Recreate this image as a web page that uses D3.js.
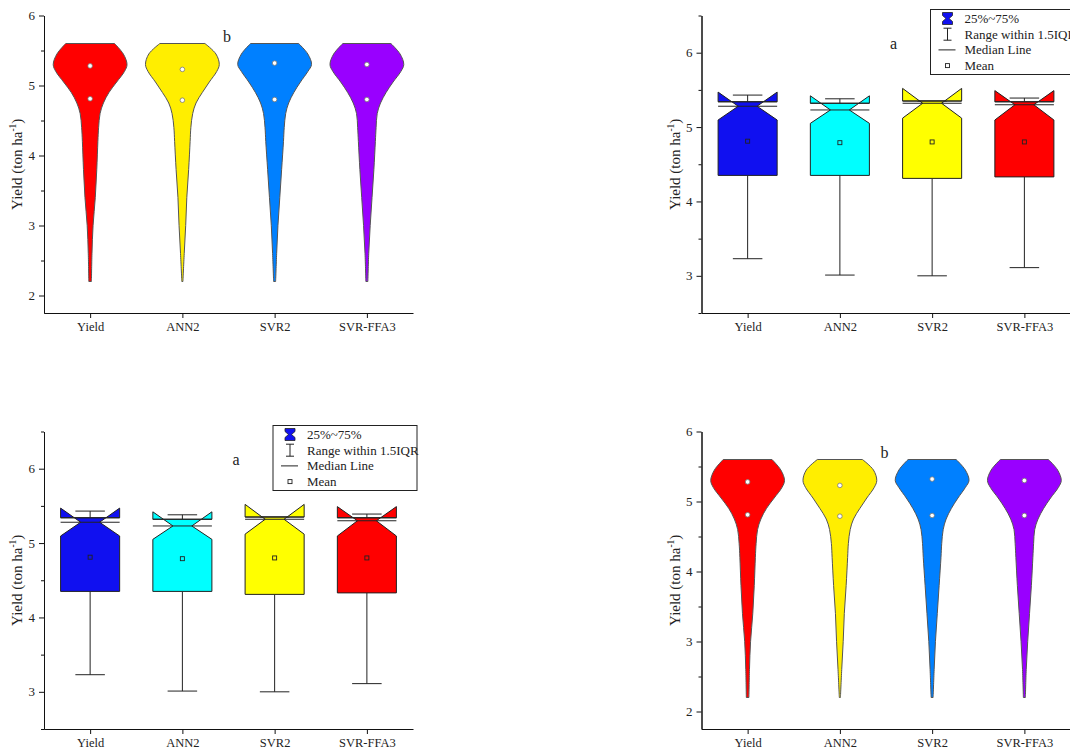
<!DOCTYPE html>
<html>
<head>
<meta charset="utf-8">
<script src="https://cdn.jsdelivr.net/npm/d3@7"></script>
<style>
  body { margin: 0; background: #fff; }
  svg { display: block; font-family: 'Liberation Serif', 'Times New Roman', serif; }
</style>
</head>
<body>
<div id="chart"></div>
<script>
// categories and summary values
const categories = ['Yield', 'ANN2', 'SVR2', 'SVR-FFA3'];
const medians = [5.28, 5.23, 5.32, 5.30];
const means = [4.81, 4.79, 4.80, 4.80];
const q1 = [4.35, 4.35, 4.31, 4.33];
const q3 = [5.34, 5.32, 5.35, 5.34];
const notchLo = [5.095, 5.05, 5.12, 5.095];
const notchHi = [5.47, 5.42, 5.52, 5.49];
const whiskerLo = [3.23, 3.01, 3.00, 3.11];
const whiskerHi = [5.43, 5.38, 5.35, 5.39];

const boxColors = ['#1010f0', '#00ffff', '#ffff00', '#ff0000'];
const violinColors = ['#ff0000', '#ffee00', '#0080ff', '#9900ff'];

// violin profile: yield levels and relative density (1 = widest)
const levels = [2.2, 2.6, 3.0, 3.4, 3.8, 4.2, 4.4, 4.6, 4.75, 4.9, 5.05, 5.2, 5.3, 5.45, 5.6];
const densYield = [0.035, 0.05, 0.08, 0.14, 0.18, 0.21, 0.23, 0.27, 0.36, 0.51, 0.72, 0.93, 1.0, 0.9, 0.66];
const densANN2 = [0.015, 0.05, 0.09, 0.12, 0.17, 0.21, 0.23, 0.28, 0.37, 0.54, 0.73, 0.93, 1.0, 0.91, 0.61];
const densSVR2 = [0.027, 0.055, 0.09, 0.14, 0.19, 0.24, 0.26, 0.30, 0.38, 0.52, 0.70, 0.90, 1.0, 0.9, 0.65];
const densFFA3 = [0.027, 0.05, 0.09, 0.14, 0.19, 0.23, 0.25, 0.28, 0.37, 0.52, 0.71, 0.92, 1.0, 0.9, 0.65];
const densities = [densYield, densANN2, densSVR2, densFFA3];

const legendLabels = ['25%~75%', 'Range within 1.5IQR', 'Median Line', 'Mean'];

const width = 1070;
const height = 751;
const panel_w = 369;
const panel_h = 297.5;
const serif = "'Liberation Serif', 'Times New Roman', serif";

const svg = d3.select('#chart')
    .append('svg')
    .attr('width', width)
    .attr('height', height);

function drawAxes(g, x, y, major, minor) {
    g.append('g')
        .attr('transform', `translate(0,${panel_h})`)
        .call(d3.axisBottom(x).tickSize(5).tickSizeOuter(0).tickPadding(4))
        .attr('font-family', serif)
        .call(a => a.selectAll('text').attr('font-size', 12.5).attr('fill', '#222'));

    g.append('g')
        .call(d3.axisLeft(y).tickValues(minor).tickSize(3).tickSizeOuter(0).tickFormat(''));

    g.append('g')
        .call(d3.axisLeft(y).tickValues(major).tickSize(5).tickSizeOuter(0).tickPadding(4)
            .tickFormat(d3.format('d')))
        .attr('font-family', serif)
        .call(a => a.selectAll('text').attr('font-size', 13).attr('fill', '#222'));

    g.selectAll('.domain, .tick line').attr('stroke', '#111');

    const lab = g.append('text')
        .attr('transform', `translate(-22,${panel_h / 2}) rotate(-90)`)
        .attr('text-anchor', 'middle')
        .attr('font-size', 15)
        .attr('fill', '#222');
    lab.append('tspan').text('Yield (ton ha');
    lab.append('tspan').attr('font-size', 9.5).attr('dy', -6).text('-1');
    lab.append('tspan').attr('dy', 6).text(')');
}

function drawViolin(left, top) {
    const g = svg.append('g').attr('transform', `translate(${left},${top})`);
    const x = d3.scalePoint().domain(categories).range([0, panel_w]).padding(0.5);
    const y = d3.scaleLinear().domain([1.75, 6]).range([panel_h, 0]);
    const wScale = d3.scaleLinear().domain([0, 1]).range([0, x.step() * 0.4]);

    categories.forEach((c, i) => {
        const cx = x(c);
        const pts = levels.map((v, j) => ({ v: v, d: densities[i][j] }));
        const area = d3.area()
            .curve(d3.curveCatmullRom)
            .y(d => y(d.v))
            .x0(d => cx - wScale(d.d))
            .x1(d => cx + wScale(d.d));
        g.append('path')
            .attr('d', area(pts))
            .attr('fill', violinColors[i])
            .attr('stroke', '#555')
            .attr('stroke-width', 1);

        [medians[i], means[i]].forEach(v => {
            g.append('circle')
                .attr('cx', cx)
                .attr('cy', y(v))
                .attr('r', 2.3)
                .attr('fill', '#fff')
                .attr('stroke', '#777')
                .attr('stroke-width', 0.8);
        });
    });

    drawAxes(g, x, y, [2, 3, 4, 5, 6], [2.5, 3.5, 4.5, 5.5]);

    g.append('text')
        .attr('x', 183)
        .attr('y', 26)
        .attr('text-anchor', 'middle')
        .attr('font-size', 16)
        .attr('fill', '#222')
        .text('b');
}

function drawBox(left, top) {
    const g = svg.append('g').attr('transform', `translate(${left},${top})`);
    const x = d3.scalePoint().domain(categories).range([0, panel_w]).padding(0.5);
    const y = d3.scaleLinear().domain([2.5, 6.5]).range([panel_h, 0]);
    const half = x.step() * 0.32;
    const neck = half * 0.32;
    const cap = half * 0.5;

    categories.forEach((c, i) => {
        const cx = x(c);
        const L = cx - half, R = cx + half;
        const yMed = y(medians[i]), yLo = y(notchLo[i]), yHi = y(notchHi[i]);
        const yQ1 = y(q1[i]), yQ3 = y(q3[i]);

        // whiskers
        g.append('line').attr('x1', cx).attr('x2', cx).attr('y1', yQ1).attr('y2', y(whiskerLo[i]))
            .attr('stroke', '#222');
        g.append('line').attr('x1', cx - cap).attr('x2', cx + cap)
            .attr('y1', y(whiskerLo[i])).attr('y2', y(whiskerLo[i])).attr('stroke', '#222');
        g.append('line').attr('x1', cx).attr('x2', cx).attr('y1', yQ3).attr('y2', y(whiskerHi[i]))
            .attr('stroke', '#222');
        g.append('line').attr('x1', cx - cap).attr('x2', cx + cap)
            .attr('y1', y(whiskerHi[i])).attr('y2', y(whiskerHi[i])).attr('stroke', '#222');

        // x position of the notch diagonal where it meets Q3
        const t = (yMed - yQ3) / (yMed - yHi);
        const xq = (cx - neck) - t * (half - neck);
        const xqR = 2 * cx - xq;

        const body = [[L, yQ1], [L, yLo], [cx - neck, yMed], [xq, yQ3], [xqR, yQ3],
            [cx + neck, yMed], [R, yLo], [R, yQ1]];
        const earL = [[L, yQ3], [L, yHi], [xq, yQ3]];
        const earR = [[R, yQ3], [R, yHi], [xqR, yQ3]];
        [body, earL, earR].forEach(p => {
            g.append('path')
                .attr('d', d3.line()(p) + 'Z')
                .attr('fill', boxColors[i])
                .attr('stroke', '#222')
                .attr('stroke-width', 1)
                .attr('stroke-linejoin', 'miter');
        });
        g.append('line').attr('x1', L).attr('x2', R).attr('y1', yQ3).attr('y2', yQ3)
            .attr('stroke', '#222');
        // median line
        g.append('line').attr('x1', L).attr('x2', R).attr('y1', yMed).attr('y2', yMed)
            .attr('stroke', '#222');
        // mean marker
        g.append('rect')
            .attr('x', cx - 2).attr('y', y(means[i]) - 2)
            .attr('width', 4).attr('height', 4)
            .attr('fill', 'none')
            .attr('stroke', '#222')
            .attr('stroke-width', 0.9);
    });

    drawAxes(g, x, y, [3, 4, 5, 6], [2.5, 3.5, 4.5, 5.5, 6.5]);

    g.append('text')
        .attr('x', 192)
        .attr('y', 33)
        .attr('text-anchor', 'middle')
        .attr('font-size', 16)
        .attr('fill', '#222')
        .text('a');

    // legend
    const lg = g.append('g').attr('transform', 'translate(229,-6)');
    lg.append('rect')
        .attr('width', 144).attr('height', 65)
        .attr('fill', '#fff').attr('stroke', '#222').attr('stroke-width', 1);
    const rowY = d => 9 + d * 15.7;
    const ix = 17;
    // bow-tie icon
    lg.append('path')
        .attr('transform', `translate(${ix},${rowY(0)})`)
        .attr('d', 'M-5,-6L5,-6L5,-3L1.5,0L5,3L5,6L-5,6L-5,3L-1.5,0L-5,-3Z')
        .attr('fill', '#1010f0').attr('stroke', '#222').attr('stroke-width', 0.8);
    // range icon
    const ry = rowY(1);
    lg.append('path')
        .attr('d', `M${ix - 4},${ry - 6}H${ix + 4}M${ix},${ry - 6}V${ry + 6}M${ix - 4},${ry + 6}H${ix + 4}`)
        .attr('stroke', '#222').attr('fill', 'none');
    // median icon
    lg.append('line')
        .attr('x1', ix - 9).attr('x2', ix + 8)
        .attr('y1', rowY(2)).attr('y2', rowY(2))
        .attr('stroke', '#222');
    // mean icon
    lg.append('rect')
        .attr('x', ix - 2).attr('y', rowY(3) - 2)
        .attr('width', 4).attr('height', 4)
        .attr('fill', 'none').attr('stroke', '#222').attr('stroke-width', 0.9);

    lg.selectAll('text.leg')
        .data(legendLabels)
        .enter()
        .append('text')
        .attr('class', 'leg')
        .attr('x', 34)
        .attr('y', (d, i) => rowY(i) + 4.5)
        .attr('font-size', 13)
        .attr('fill', '#222')
        .text(d => d);
}

drawViolin(44, 15.5);
drawBox(701.5, 15.5);
drawBox(44, 431.5);
drawViolin(701.5, 431.5);
</script>
</body>
</html>
